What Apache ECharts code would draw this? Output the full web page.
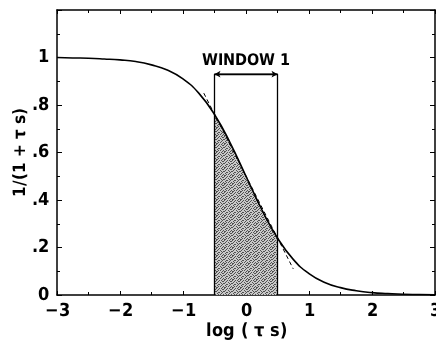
<!DOCTYPE html>
<html><head><meta charset="utf-8">
<script src="https://cdn.jsdelivr.net/npm/echarts@6/dist/echarts.min.js"></script>
<style>
@font-face { font-family: 'CondB'; font-weight: bold;
  src: local('DejaVu Sans Condensed Bold'), local('DejaVuSansCondensed-Bold'), local('Liberation Sans Narrow Bold'), local('LiberationSansNarrow-Bold'); }
html,body{margin:0;padding:0;background:#fff}#c{width:436px;height:347px}
</style>
</head><body><div id="c"></div>
<script>
// Curve 1/(1+tau s)
const curveX = [-3, -2.75, -2.5, -2.25, -2, -1.75, -1.5, -1.25, -1, -0.75, -0.5, -0.25, 0, 0.25, 0.5, 0.75, 1, 1.25, 1.5, 1.75, 2, 2.25, 2.5, 2.75, 3];
const curveY = [1.0, 0.998, 0.997, 0.994, 0.99, 0.983, 0.969, 0.947, 0.91, 0.85, 0.76, 0.64, 0.5, 0.36, 0.24, 0.15, 0.09, 0.053, 0.031, 0.018, 0.01, 0.006, 0.003, 0.002, 0.001];
// shaded window region (under curve)
const shadeX = [-0.5, -0.25, 0, 0.25, 0.5];
const shadeY = [0.76, 0.64, 0.5, 0.36, 0.24];
// dashed chord line endpoints
const chordX = [-0.67, 0.75];
const chordY = [0.85, 0.11];
// window box
const windowX = [-0.5, -0.5, 0.5, 0.5];
const windowY = [0, 0.93, 0.93, 0];
const windowLabel = 'WINDOW 1';
const yTickLabels = {0: '0', 0.2: '.2', 0.4: '.4', 0.6: '.6', 0.8: '.8', 1: '1'};

const FONT = 'CondB, "DejaVu Sans", sans-serif';
const zip = (a, b) => a.map((v, i) => [v, b[i]]);

function render() {
  // stipple pattern (fixed irregular dot layout)
  const dots = [
    '10010100',
    '00100011',
    '01001000',
    '10000101',
    '00110010',
    '01000100',
    '00101001',
    '11000010'
  ];
  const pc = document.createElement('canvas');
  pc.width = 8; pc.height = 8;
  const pctx = pc.getContext('2d');
  pctx.fillStyle = '#c8c8c8'; pctx.fillRect(0, 0, 8, 8);
  pctx.fillStyle = '#505050';
  dots.forEach((row, y) => row.split('').forEach((c, x) => { if (c === '1') pctx.fillRect(x, y, 1, 1); }));

  const chart = echarts.init(document.getElementById('c'));
  const axisLine = {show: true, onZero: false, lineStyle: {color: '#000', width: 1.5}};
  const txt = (size) => ({color: '#000', fontFamily: FONT, fontWeight: 'bold', fontSize: size});
  chart.setOption({
    animation: false,
    grid: {left: 57, right: 1, top: 10, bottom: 52, outerBoundsMode: 'none', containLabel: false},
    xAxis: [{
      type: 'value', min: -3, max: 3, interval: 1, position: 'bottom',
      axisLine: axisLine,
      axisTick: {inside: true, length: 4, lineStyle: {color: '#000'}},
      minorTick: {show: true, splitNumber: 2, length: 3, lineStyle: {color: '#000'}},
      splitLine: {show: false},
      axisLabel: Object.assign(txt(18), {margin: 7,
        formatter: v => (v < 0 ? '\u2212' + Math.abs(v) : String(v))}),
      name: 'log ( \u03c4 s)', nameLocation: 'middle', nameGap: 27, nameMoveOverlap: false,
      nameTextStyle: txt(18)
    }, {
      type: 'value', min: -3, max: 3, interval: 1, position: 'top',
      axisLine: axisLine,
      axisTick: {inside: true, length: 4, lineStyle: {color: '#000'}},
      minorTick: {show: true, splitNumber: 2, length: 3, lineStyle: {color: '#000'}},
      splitLine: {show: false}, axisLabel: {show: false}
    }],
    yAxis: [{
      type: 'value', min: 0, max: 1.2, interval: 0.2, position: 'left',
      axisLine: axisLine,
      axisTick: {inside: true, length: 5, lineStyle: {color: '#000'}},
      minorTick: {show: true, splitNumber: 2, length: 3, lineStyle: {color: '#000'}},
      splitLine: {show: false},
      axisLabel: Object.assign(txt(18), {margin: 8,
        formatter: v => { const k = Math.round(v * 10) / 10; return yTickLabels[k] !== undefined ? yTickLabels[k] : ''; }}),
      name: '1/(1 + \u03c4 s)', nameLocation: 'middle', nameGap: 28, nameRotate: 90, nameMoveOverlap: false,
      nameTextStyle: txt(17)
    }, {
      type: 'value', min: 0, max: 1.2, interval: 0.2, position: 'right',
      axisLine: axisLine,
      axisTick: {inside: true, length: 5, lineStyle: {color: '#000'}},
      minorTick: {show: true, splitNumber: 2, length: 3, lineStyle: {color: '#000'}},
      splitLine: {show: false}, axisLabel: {show: false}
    }],
    series: [
      {type: 'line', data: zip(shadeX, shadeY), symbol: 'none', smooth: true,
        lineStyle: {width: 0}, areaStyle: {color: {image: pc, repeat: 'repeat'}, opacity: 1}, z: 1},
      {type: 'line', data: zip(windowX, windowY), symbol: 'none',
        lineStyle: {color: '#000', width: 1.3}, z: 2,
        markLine: {silent: true, symbol: ['arrow', 'arrow'], symbolSize: [5, 6],
          lineStyle: {color: '#000', width: 1.3, type: 'solid'},
          label: Object.assign(txt(16), {show: true, position: 'middle', formatter: windowLabel, distance: 5}),
          data: [[{coord: [windowX[1], windowY[1]]}, {coord: [windowX[2], windowY[2]]}]]}},
      {type: 'line', data: zip(chordX, chordY), symbol: 'none',
        lineStyle: {color: '#000', width: 1, type: [4, 3]}, z: 3},
      {type: 'line', data: zip(curveX, curveY), symbol: 'none', smooth: true,
        lineStyle: {color: '#000', width: 1.6}, z: 4}
    ]
  });
}
let done = false;
const go = () => { if (!done) { done = true; render(); } };
if (document.fonts && document.fonts.load) {
  document.fonts.load('bold 18px CondB').then(go, go);
  setTimeout(go, 1500);
} else { go(); }
</script></body></html>
